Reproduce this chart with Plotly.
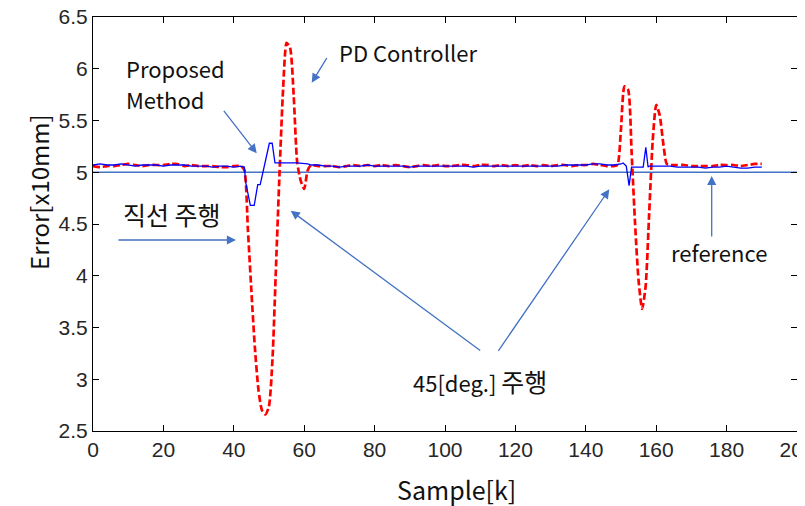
import plotly.graph_objects as go

# ---------------- data ----------------
# PD controller (red dashed)
pd_k = [0, 2, 4, 6, 8, 10, 12, 14, 16, 18, 20, 22, 24, 26, 28, 30, 32, 34, 36, 38, 40,
        42, 43, 44, 45, 46, 47, 48, 49, 50, 51, 52, 53, 54, 55, 56, 57, 58, 59, 60, 61,
        62, 64, 66, 68, 70, 72, 74, 76, 78, 80, 82, 84, 86, 88, 90, 92, 94, 96, 98, 100,
        102, 104, 106, 108, 110, 112, 114, 116, 118, 120, 122, 124, 126, 128, 130, 132,
        134, 136, 138, 140, 142, 144, 146, 148,
        149, 150, 151, 152, 153, 154, 155, 156, 157, 158, 159, 160, 161, 162, 163,
        164, 166, 168, 170, 172, 174, 176, 178, 180, 182, 184, 186, 188, 190]
pd_err = [5.06, 5.05, 5.06, 5.06, 5.07, 5.08, 5.07, 5.06, 5.07, 5.07, 5.07, 5.08, 5.08, 5.06, 5.07, 5.06, 5.06, 5.06, 5.05, 5.05, 5.06,
          5.06, 5.02, 4.45, 3.85, 3.3, 2.9, 2.7, 2.66, 2.74, 3.2, 4.1, 5.0, 5.8, 6.25, 6.2, 5.75, 5.1, 4.92, 4.84, 5.02,
          5.07, 5.06, 5.06, 5.06, 5.05, 5.06, 5.07, 5.06, 5.07, 5.06, 5.07, 5.06, 5.07, 5.06, 5.05, 5.06, 5.07, 5.06, 5.07, 5.06,
          5.06, 5.07, 5.07, 5.06, 5.07, 5.07, 5.06, 5.07, 5.06, 5.07, 5.06, 5.07, 5.06, 5.07, 5.06, 5.07,
          5.07, 5.06, 5.07, 5.07, 5.08, 5.07, 5.06, 5.06,
          5.07, 5.42, 5.83, 5.80, 5.2, 4.5, 3.95, 3.68, 3.9, 4.6, 5.3, 5.65, 5.55, 5.28, 5.08,
          5.07, 5.07, 5.07, 5.06, 5.06, 5.06, 5.06, 5.07, 5.07, 5.07, 5.06, 5.07, 5.08, 5.08]

# Proposed method (blue solid)
pm_k = [0, 2, 4, 6, 8, 10, 12, 14, 16, 18, 20, 22, 24, 26, 28, 30, 32, 34, 36, 38, 40,
        42, 43, 43.4, 44.7, 45.8, 46.8, 47.5, 50.1, 50.9, 51.7, 54, 58, 61,
        62, 64, 66, 68, 70, 72, 74, 76, 78, 80, 82, 84, 86, 88, 90, 92, 94, 96, 98, 100,
        102, 104, 106, 108, 110, 112, 114, 116, 118, 120, 122, 124, 126, 128, 130, 132,
        134, 136, 138, 140, 142, 144, 146, 148, 150, 150.6,
        151.5, 152.3, 153, 155, 156.3, 157.05, 157.7, 158,
        160, 162, 164, 166, 168, 170, 172, 174, 176, 178, 180, 182, 184, 186, 188, 190]
pm_err = [5.07, 5.08, 5.07, 5.07, 5.08, 5.07, 5.06, 5.07, 5.07, 5.07, 5.06, 5.07, 5.07, 5.07, 5.06, 5.06, 5.06, 5.05, 5.06, 5.06, 5.05,
          5.06, 5.05, 4.9, 4.68, 4.68, 4.88, 4.88, 5.28, 5.28, 5.09, 5.09, 5.09, 5.08,
          5.07, 5.07, 5.06, 5.06, 5.05, 5.06, 5.06, 5.06, 5.07, 5.06, 5.06, 5.06, 5.06, 5.06, 5.05, 5.06, 5.06, 5.06, 5.06, 5.06,
          5.06, 5.06, 5.06, 5.05, 5.06, 5.06, 5.06, 5.06, 5.06, 5.06, 5.06, 5.06, 5.06, 5.06, 5.06, 5.06,
          5.07, 5.07, 5.07, 5.07, 5.08, 5.08, 5.07, 5.07, 5.08, 5.09,
          5.06, 4.87, 5.05, 5.05, 5.05, 5.24, 5.05, 5.06,
          5.06, 5.06, 5.06, 5.05, 5.05, 5.05, 5.05, 5.04, 5.05, 5.05, 5.06, 5.05, 5.04, 5.04, 5.05, 5.05]

ref_k = [0, 200]
ref_val = [5.0, 5.0]

x_ticks = [0, 20, 40, 60, 80, 100, 120, 140, 160, 180, 200]
y_ticks = [2.5, 3, 3.5, 4, 4.5, 5, 5.5, 6, 6.5]

x_title = "Sample[k]"
y_title = "Error[x10mm]"

# ---------------- figure ----------------
ARROW = "#4472C4"
TXT_FONT = "Noto Sans CJK KR, Malgun Gothic, sans-serif"
TICK_FONT = "Liberation Sans Narrow, Arial Narrow, Liberation Sans, Arial"

fig = go.Figure()
fig.add_trace(go.Scatter(x=ref_k, y=ref_val, mode="lines",
                         line=dict(color=ARROW, width=1.4), showlegend=False))
fig.add_trace(go.Scatter(x=pd_k, y=pd_err, mode="lines",
                         line=dict(color="#FF0000", width=2.7, dash="7px,3px", shape="spline", smoothing=0.6),
                         showlegend=False))
fig.add_trace(go.Scatter(x=pm_k, y=pm_err, mode="lines",
                         line=dict(color="#0000FF", width=1.3), showlegend=False))

# page body has an 8px margin; screen-space plot box: left 93, right 797, top 17, bottom 431
OFF = 8
W, H = 805, 506
SL, SR, ST, SB = 93, 797, 17, 431
L, T = SL - OFF, ST - OFF
R = W - (SR - OFF)
B = H - (SB - OFF)
PW, PH = SR - SL, SB - ST


def px(x):
    return (x - SL) / PW


def py(y):
    return (SB - y) / PH


KO = '<span style="font-size:25px">%s</span>'
annotations = []
# text labels (screen pixel positions)
for txt, cx, cy, xa, size, ang in [
    ("PD Controller", 408, 52, "center", 22, 0),
    ("Proposed", 124, 68, "left", 22, 0),
    ("Method", 124, 99, "left", 22, 0),
    (KO % "직선 주행", 172, 214, "center", 22, 0),
    ("45[deg.] " + KO % "주행", 480, 381, "center", 22, 0),
    ("reference", 719, 252, "center", 22, 0),
    (x_title, 456, 489, "center", 25, 0),
    (y_title, 38, 192, "center", 24, -90),
]:
    annotations.append(dict(text=txt, x=px(cx), y=py(cy), xref="paper", yref="paper",
                            xanchor=xa, yanchor="middle", showarrow=False, textangle=ang,
                            font=dict(family=TXT_FONT, size=size, color="#111")))

# arrows: tip (screen pixel), tail offset (pixel)
for tx, ty, ax, ay in [
    (311.7, 82.7, 16, -26),
    (256.7, 153.3, -34, -44),
    (236, 240, -119, 0),
    (290.7, 210.7, 191, 141),
    (609.3, 189.3, -112, 163),
    (711.7, 176, 0, 62),
]:
    annotations.append(dict(text="", x=px(tx), y=py(ty), xref="paper", yref="paper",
                            ax=ax, ay=ay, axref="pixel", ayref="pixel", showarrow=True,
                            arrowhead=2, arrowsize=1.4, arrowwidth=1.3, arrowcolor=ARROW))

fig.update_layout(
    width=W, height=H,
    margin=dict(l=L, r=R, t=T, b=B, autoexpand=False),
    paper_bgcolor="white", plot_bgcolor="white",
    annotations=annotations,
    xaxis=dict(range=[0, 200], tickvals=x_ticks, ticks="inside", ticklen=6, tickcolor="black",
               showline=True, linecolor="black", linewidth=1.2, mirror="ticks",
               showgrid=False, zeroline=False, ticklabeloverflow="allow",
               tickfont=dict(family=TICK_FONT, size=21, color="#262626")),
    yaxis=dict(range=[2.5, 6.5], tickvals=y_ticks, ticks="inside", ticklen=6, tickcolor="black",
               showline=True, linecolor="black", linewidth=1.2, mirror="ticks",
               showgrid=False, zeroline=False, ticklabeloverflow="allow",
               tickfont=dict(family=TICK_FONT, size=21, color="#262626")),
)

fig.write_html("out.html")
